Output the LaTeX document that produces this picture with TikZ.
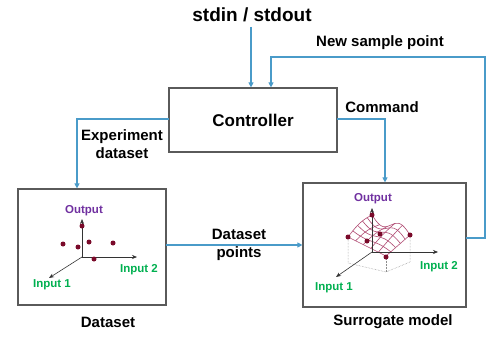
\documentclass[tikz,border=0pt]{standalone}
\usepackage{fontspec}
\setmainfont{Liberation Sans}
\usetikzlibrary{arrows.meta}
\definecolor{linkblue}{HTML}{4A9BC9}
\definecolor{boxgray}{HTML}{5A5A5A}
\definecolor{outpurple}{HTML}{7030A0}
\definecolor{ingreen}{HTML}{00B050}
\definecolor{dotred}{HTML}{7A0A2A}
\definecolor{meshpink}{HTML}{B04A72}
\begin{document}
\begin{tikzpicture}[x=1pt,y=-1pt,
  box/.style={draw=boxgray, line width=1.2pt, fill=white, inner sep=0pt},
  link/.style={draw=linkblue, line width=1.1pt, -{Triangle[width=5pt,length=5pt]}},
  lbl/.style={font=\fontsize{15}{18}\selectfont\bfseries, align=center, inner sep=0pt},
  axislbl/.style={font=\fontsize{11.5}{13}\selectfont\bfseries, inner sep=0pt},
  axisline/.style={draw=black!80, line width=0.6pt, -{Stealth[length=5pt,width=4pt]}},
  dot/.style={circle, fill=dotred, inner sep=0pt, minimum size=5pt},
  mesh/.style={draw=meshpink, line width=0.6pt},
  guide/.style={draw=black!45, line width=0.5pt, densely dotted}]
\useasboundingbox (0,0) rectangle (487,337);

% ---- main blocks ----
\node[font=\fontsize{19}{22}\selectfont\bfseries, inner sep=0pt] (io) at (252,15) {stdin / stdout};
\node[box, minimum width=168pt, minimum height=64pt] (ctrl) at (253,120) {};
\node[font=\fontsize{17}{20}\selectfont\bfseries] at (ctrl.center) {Controller};
\node[box, minimum width=148pt, minimum height=116pt] (ds) at (92,247) {};
\node[box, minimum width=163pt, minimum height=124pt] (sg) at (384.5,245) {};
\node[lbl] (dslbl) at (108,322) {Dataset};
\node[lbl] (sglbl) at (393,322) {Surrogate model};

% ---- connector labels ----
\node[lbl] (newpt) at (380,43) {New sample point};
\node[lbl] (cmd) at (382,107) {Command};
\node[lbl] (expds) at (122,144) {Experiment\\dataset};
\node[lbl] (dspts) at (239,245) {Dataset\\points};

% ---- connectors ----
\coordinate (ioend) at (251,27);
\draw[link] (ioend) -- (ioend |- ctrl.north);

\coordinate (fbA) at (466,238);
\coordinate (fbB) at (485,238);
\coordinate (fbC) at (485,57);
\coordinate (fbD) at (271,57);
\draw[link] (fbA) -- (fbB) -- (fbC) -- (fbD) -- (fbD |- ctrl.north);

\coordinate (cmdA) at (337,119);
\coordinate (cmdB) at (385,119);
\draw[link] (cmdA) -- (cmdB) -- (cmdB |- sg.north);

\coordinate (expA) at (169,119);
\coordinate (expB) at (77,119);
\draw[link] (expA) -- (expB) -- (expB |- ds.north);

\coordinate (dpA) at (166,245);
\draw[link] (dpA) -- (dpA -| sg.west);

% ---- dataset scatter ----
\coordinate (o1) at (82,257);
\coordinate (o1z) at (82,219);
\coordinate (o1y) at (137,257);
\coordinate (o1x) at (49,278);
\draw[axisline] (o1) -- (o1z);
\draw[axisline] (o1) -- (o1y);
\draw[axisline] (o1) -- (o1x);
\node[axislbl, text=outpurple] (o1zl) at (84,211) {Output};
\node[axislbl, text=ingreen] (o1yl) at (139,270) {Input 2};
\node[axislbl, text=ingreen] (o1xl) at (52,285) {Input 1};
\foreach \px/\py [count=\i] in {82/226, 63/244, 78/247, 89/242, 113/243, 94/259}
  \node[dot] (dp\i) at (\px,\py) {};

% ---- surrogate surface ----
\coordinate (o2) at (372,252);
\coordinate (o2z) at (372,208);
\coordinate (o2y) at (438,252);
\coordinate (o2x) at (336,277);
% base corners below the surface
\coordinate (bl) at (348,263);
\coordinate (bf) at (386,272);
\coordinate (br) at (410,262);
\coordinate (sl) at (348,237);
\coordinate (sf) at (386,256);
\coordinate (sr) at (410,235);
\draw[guide] (sl) -- (bl) -- (bf) -- (br) -- (sr);
\draw[guide] (sf) -- (bf);

% wavy mesh: bilinear patch between the corners plus a ripple
\foreach \v in {0,0.2,0.4,0.6,0.8,1}{
  \draw[mesh] plot[smooth, domain=0:1, samples=11, variable=\u]
    ({(1-\u)*(1-\v)*348 + \u*(1-\v)*386 + \u*\v*410 + (1-\u)*\v*372},
     {(1-\u)*(1-\v)*237 + \u*(1-\v)*256 + \u*\v*235 + (1-\u)*\v*215 + 6*sin(360*\u)*\v - 3*sin(180*\v)*(1-\u)});
}
\foreach \u in {0,0.2,0.4,0.6,0.8,1}{
  \draw[mesh] plot[smooth, domain=0:1, samples=11, variable=\v]
    ({(1-\u)*(1-\v)*348 + \u*(1-\v)*386 + \u*\v*410 + (1-\u)*\v*372},
     {(1-\u)*(1-\v)*237 + \u*(1-\v)*256 + \u*\v*235 + (1-\u)*\v*215 + 6*sin(360*\u)*\v - 3*sin(180*\v)*(1-\u)});
}

\draw[axisline] (o2) -- (o2z);
\draw[axisline] (o2) -- (o2y);
\draw[axisline] (o2) -- (o2x);
\node[axislbl, text=outpurple] (o2zl) at (373,199) {Output};
\node[axislbl, text=ingreen] (o2yl) at (439,267) {Input 2};
\node[axislbl, text=ingreen] (o2xl) at (334,288) {Input 1};
\foreach \px/\py [count=\i] in {372/215, 348/237, 367/241, 380/234, 410/235, 386/257}
  \node[dot] (sp\i) at (\px,\py) {};
\end{tikzpicture}
\end{document}
